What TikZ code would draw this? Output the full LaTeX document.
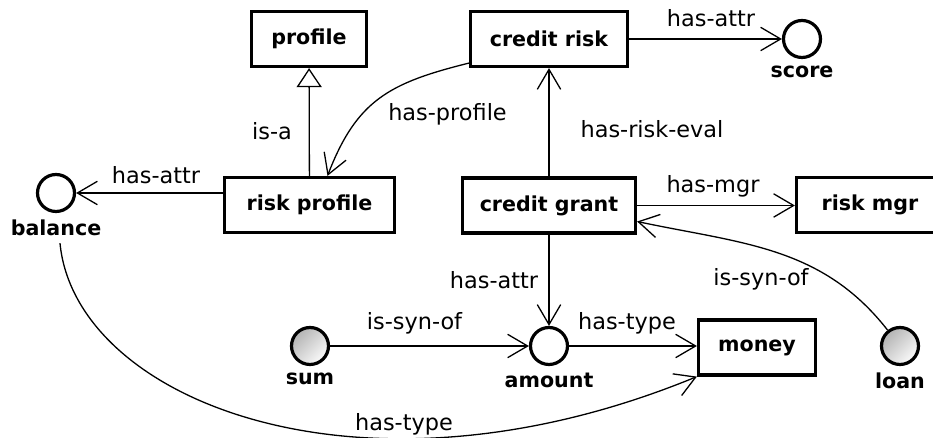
\documentclass[tikz,border=0pt]{standalone}
\usepackage{fontspec}
\setmainfont{DejaVu Sans}
\usetikzlibrary{arrows.meta,positioning,shapes.geometric}

\begin{document}
\begin{tikzpicture}[
  x=0.5pt,y=0.5pt,
  concept/.style={rectangle,draw,line width=1.6pt,inner sep=0pt,
                  minimum height=27.5pt,font=\fontsize{10.3}{12}\selectfont\bfseries},
  attr/.style={circle,draw,line width=1.6pt,minimum size=18.5pt,inner sep=0pt,
               label distance=0.5pt},
  syn/.style={attr,top color=gray!60,bottom color=gray!3,shading angle=45},
  lbl/.style={font=\fontsize{10.3}{12}\selectfont\bfseries},
  rel/.style={font=\fontsize{11.2}{13}\selectfont},
  conn/.style={line width=0.65pt,-{Straight Barb[length=10pt,width=11.7pt]}},
  isa/.style={line width=0.65pt,-{Triangle[open,length=9.5pt,width=12.5pt,line width=0.65pt]}},
]
  \useasboundingbox (0,0) rectangle (933,438);

  % Concepts
  \node[concept,minimum width=57.5pt] (profile)     at (309,399)   {profile};
  \node[concept,minimum width=78.5pt] (creditrisk)  at (549,399)   {credit risk};
  \node[concept,minimum width=85pt]   (riskprofile) at (309.5,233) {risk profile};
  \node[concept,minimum width=86.5pt] (creditgrant) at (549,232.5) {credit grant};
  \node[concept,minimum width=73.5pt] (riskmgr)     at (870,233)   {risk mgr};
  \node[concept,minimum width=58.5pt] (money)       at (757,90.5)  {money};

  % Attributes
  \node[attr,label={[lbl,name=scorelbl]below:score}]     (score)   at (802,399) {};
  \node[attr,label={[lbl,name=balancelbl]below:balance}] (balance) at (56,245)  {};
  \node[attr,label={[lbl,name=amountlbl]below:amount}]   (amount)  at (549,92)  {};
  \node[syn,label={[lbl,name=sumlbl]below:sum}]          (sum)     at (310,92)  {};
  \node[syn,label={[lbl,name=loanlbl]below:loan}]        (loan)    at (900,92)  {};

  % Relations
  \draw[isa]  (riskprofile) -- (profile);
  \draw[conn] (creditrisk) -- (score);
  \draw[conn] ([yshift=2.5pt]creditrisk.south west) to[out=194,in=69,looseness=1.15]
              ([xshift=9pt]riskprofile.north);
  \draw[conn] (creditgrant) -- (creditrisk);
  \draw[conn] (balance -| riskprofile.west) -- (balance);
  \draw[conn] (creditgrant) -- (creditgrant -| riskmgr.west);
  \draw[conn] (creditgrant) -- (amount);
  \draw[conn] (sum) -- (amount);
  \draw[conn] (amount) -- (amount -| money.west);
  \draw[conn] (loan.128) to[out=128,in=-12] ([yshift=-8pt]creditgrant.east);
  \draw[conn] ([xshift=2pt]balancelbl.south) .. controls (75,38) and (360,-77)
              .. (money.south west);

  % Relation labels
  \node[rel] (isalbl)       at (272,307)   {is-a};
  \node[rel] (hasprofile)   at (447.5,324) {has-profile};
  \node[rel] (hasattrtop)   at (711,420)   {has-attr};
  \node[rel] (hasriskeval)  at (652,309)   {has-risk-eval};
  \node[rel] (hasattrleft)  at (156,263)   {has-attr};
  \node[rel] (hasmgr)       at (713,252)   {has-mgr};
  \node[rel] (hasattrlow)   at (494,158)   {has-attr};
  \node[rel] (synsum)       at (414.5,115) {is-syn-of};
  \node[rel] (hastypeamt)   at (627,115)   {has-type};
  \node[rel] (synloan)      at (761,159)   {is-syn-of};
  \node[rel] (hastypebal)   at (404,14)    {has-type};
\end{tikzpicture}
\end{document}
